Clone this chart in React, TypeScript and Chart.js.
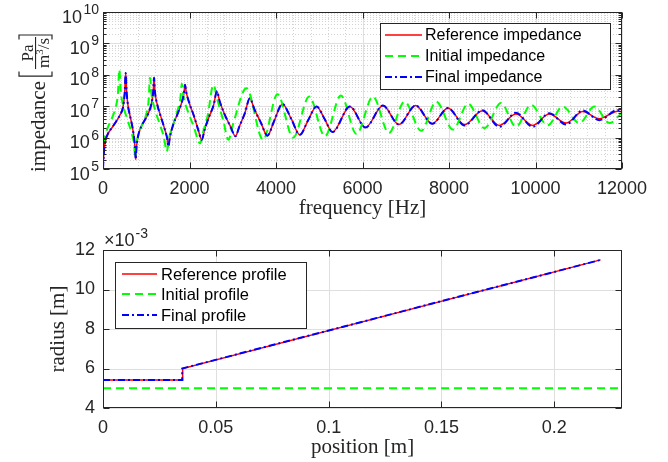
import React, { useEffect, useRef } from "react";
import { Chart, registerables } from "chart.js";
Chart.register(...registerables);

// ---------------- impedance data ----------------
const refFreq = [
  0, 20, 50, 100, 200, 300, 400, 460, 500, 525, 545, 580, 640, 700, 740, 757, 775, 810, 880, 960,
  1050, 1120, 1160, 1180, 1200, 1250, 1330, 1420, 1480, 1512, 1545, 1620, 1720, 1820, 1870, 1897,
  1925, 2000, 2100, 2200, 2283, 2350, 2450, 2560, 2631, 2700, 2800, 2950, 3062, 3150, 3280, 3394,
  3500, 3650, 3802, 3950, 4149, 4350, 4551, 4740, 4937, 5120, 5306, 5708, 6069, 6472, 6842, 7227,
  7612, 7976, 8360, 8770, 9163, 9549, 9934, 10320, 10706, 11090, 11477, 11900, 12000,
];
const refImp = [
  1.0e5, 3.2e5, 7.1e5, 1.2e6, 2.0e6, 3.2e6, 5.5e6, 8.9e6, 2.5e7, 1.15e8, 3.0e7, 1.0e7, 4.0e6, 1.5e6, 5.0e5, 2.0e5, 5.0e5, 1.1e6, 2.2e6, 3.5e6,
  6.0e6, 1.2e7, 2.8e7, 8.0e7, 3.0e7, 1.2e7, 5.0e6, 2.0e6, 1.0e6, 5.2e5, 1.0e6, 2.5e6, 5.5e6, 1.3e7, 2.5e7, 4.8e7,
  2.8e7, 1.2e7, 5.0e6, 1.8e6, 8.5e5, 1.8e6, 4.5e6, 1.1e7, 3.0e7, 1.4e7, 6.0e6, 2.2e6, 1.1e6, 2.2e6, 6.0e6, 1.8e7,
  8.0e6, 3.0e6, 1.15e6, 3.2e6, 1.17e7, 4.0e6, 1.23e6, 3.5e6, 9.8e6, 4.0e6, 1.5e6, 9.8e6, 2.1e6, 1.05e7, 2.6e6, 1.05e7,
  2.75e6, 8.7e6, 2.6e6, 7.1e6, 2.45e6, 5.6e6, 2.45e6, 5.6e6, 2.9e6, 6.8e6, 4.0e6, 6.9e6, 6.7e6,
];
const finImp = [
  1.0e5, 3.2e5, 7.1e5, 1.2e6, 2.0e6, 3.2e6, 5.5e6, 8.9e6, 2.5e7, 1.15e8, 3.0e7, 1.0e7, 4.0e6, 1.5e6, 5.0e5, 2.0e5, 5.0e5, 1.1e6, 2.2e6, 3.5e6,
  6.0e6, 1.2e7, 2.8e7, 8.0e7, 3.0e7, 1.2e7, 5.0e6, 2.0e6, 1.0e6, 5.2e5, 1.0e6, 2.5e6, 5.5e6, 1.3e7, 2.5e7, 4.8e7,
  2.8e7, 1.2e7, 5.0e6, 1.8e6, 8.5e5, 1.8e6, 4.5e6, 1.1e7, 3.0e7, 1.4e7, 6.0e6, 2.2e6, 1.1e6, 2.2e6, 6.0e6, 1.8e7,
  8.0e6, 3.0e6, 1.15e6, 3.2e6, 1.17e7, 4.0e6, 1.23e6, 3.5e6, 9.8e6, 4.0e6, 1.5e6, 9.8e6, 2.1e6, 1.05e7, 2.6e6, 1.05e7,
  2.75e6, 8.7e6, 2.45e6, 7.4e6, 2.2e6, 6.2e6, 2.2e6, 6.0e6, 2.6e6, 7.3e6, 3.6e6, 7.6e6, 7.2e6,
];
const iniFreq = [
  0, 30, 80, 150, 230, 300, 345, 377, 410, 470, 560, 660, 720, 745, 770, 820, 900, 990, 1050, 1088,
  1120, 1200, 1300, 1410, 1474, 1530, 1620, 1720, 1790, 1821, 1860, 1960, 2100, 2245, 2320, 2420, 2552,
  2650, 2780, 2900, 3000, 3316, 3702, 4034, 4397, 4767, 5130, 5500, 5862, 6241, 6611, 6972, 7358, 7705,
  8092, 8439, 8823, 9202, 9549, 9896, 10281, 10628, 11015, 11362, 11709, 12000,
];
const iniImp = [
  2.5e5, 8.0e5, 1.6e6, 2.8e6, 5.0e6, 1.0e7, 2.5e7, 1.5e8, 3.0e7, 1.0e7, 4.0e6, 1.4e6, 6.0e5, 2.3e5, 6.0e5, 1.2e6, 2.5e6, 5.0e6, 1.3e7, 8.0e7,
  2.5e7, 8.0e6, 3.0e6, 1.0e6, 3.6e5, 1.0e6, 2.6e6, 7.0e6, 1.8e7, 5.2e7, 2.0e7, 7.0e6, 2.2e6, 6.5e5, 1.6e6, 5.0e6, 4.8e7,
  1.5e7, 3.5e6, 8.5e5, 2.5e6, 3.7e7, 8.5e5, 2.4e7, 1.0e6, 2.04e7, 1.1e6, 2.2e7, 1.3e6, 2.04e7, 1.4e6, 1.4e7, 1.65e6, 1.4e7,
  1.8e6, 1.2e7, 2.0e6, 1.26e7, 2.2e6, 1.1e7, 2.45e6, 9.8e6, 2.9e6, 9.8e6, 2.9e6, 6.2e6,
];
const freqTicks = [0, 2000, 4000, 6000, 8000, 10000, 12000];
const impExponents = [5, 6, 7, 8, 9, 10];

// ---------------- profile data ----------------
const posRef = [0, 0.0353, 0.0353, 0.2205];
const radRef = [0.00542, 0.00542, 0.006, 0.0115];
const posIni = [0, 0.23];
const radIni = [0.005, 0.005];
const posFin = [0, 0.0351, 0.0351, 0.2205];
const radFin = [0.00542, 0.00542, 0.006, 0.0115];
const posTicks = [0, 0.05, 0.1, 0.15, 0.2];
const radTicksMm = [4, 6, 8, 10, 12];

const SANS = '"Liberation Sans", Arial, Helvetica, sans-serif';
const SERIF = '"Liberation Serif", "Times New Roman", serif';
const AX = "#262626";
const TOP_H = 224;
const BOT_H = 238;

const zip = (xs: number[], ys: number[]) => xs.map((x, i) => ({ x, y: ys[i] }));

type FrameOpts = {
  xMajor: number[];
  xMinor: number[];
  yMajor: number[];
  yMinor: number[];
  yMinorTicks: boolean;
  legend: { l: number; t: number; r: number; b: number; rows: number[]; lx0: number; lx1: number; tx: number; font: number };
  extra?: (chart: any) => void;
};

function framePlugin(o: FrameOpts) {
  return {
    id: "matlabFrame",
    beforeDatasetsDraw(chart: any) {
      const { ctx, chartArea: a, scales } = chart;
      const xs = scales.x, ys = scales.y;
      const vline = (v: number) => {
        const p = Math.round(xs.getPixelForValue(v)) + 0.5;
        ctx.beginPath(); ctx.moveTo(p, a.top); ctx.lineTo(p, a.bottom); ctx.stroke();
      };
      const hline = (v: number) => {
        const p = Math.round(ys.getPixelForValue(v)) + 0.5;
        ctx.beginPath(); ctx.moveTo(a.left, p); ctx.lineTo(a.right, p); ctx.stroke();
      };
      ctx.save();
      ctx.lineWidth = 1;
      ctx.strokeStyle = "#d4d4d4";
      ctx.setLineDash([1, 2]);
      o.xMinor.forEach(vline);
      o.yMinor.forEach(hline);
      ctx.setLineDash([]);
      ctx.strokeStyle = "#dfdfdf";
      o.xMajor.forEach(vline);
      o.yMajor.forEach(hline);
      ctx.restore();
    },
    afterDatasetsDraw(chart: any) {
      const { ctx, chartArea: a, scales } = chart;
      const xs = scales.x, ys = scales.y;
      const L = Math.round(a.left) + 0.5, R = Math.round(a.right) - 0.5;
      const T = Math.round(a.top) + 0.5, B = Math.round(a.bottom) - 0.5;
      ctx.save();
      ctx.strokeStyle = AX;
      ctx.lineWidth = 1;
      ctx.strokeRect(L, T, R - L, B - T);
      ctx.beginPath();
      for (const v of o.xMajor) {
        const p = Math.round(xs.getPixelForValue(v)) + 0.5;
        ctx.moveTo(p, B); ctx.lineTo(p, B - 6);
        ctx.moveTo(p, T); ctx.lineTo(p, T + 6);
      }
      for (const v of o.yMajor) {
        const p = Math.round(ys.getPixelForValue(v)) + 0.5;
        ctx.moveTo(L, p); ctx.lineTo(L + 6, p);
        ctx.moveTo(R, p); ctx.lineTo(R - 6, p);
      }
      if (o.yMinorTicks) {
        for (const v of o.yMinor) {
          const p = Math.round(ys.getPixelForValue(v)) + 0.5;
          ctx.moveTo(L, p); ctx.lineTo(L + 3, p);
          ctx.moveTo(R, p); ctx.lineTo(R - 3, p);
        }
      }
      ctx.stroke();

      // legend
      const lg = o.legend;
      ctx.fillStyle = "#ffffff";
      ctx.fillRect(lg.l, lg.t, lg.r - lg.l, lg.b - lg.t);
      ctx.strokeStyle = AX;
      ctx.strokeRect(lg.l + 0.5, lg.t + 0.5, lg.r - lg.l, lg.b - lg.t);
      chart.data.datasets.forEach((ds: any, i: number) => {
        const y = lg.rows[i];
        ctx.save();
        ctx.strokeStyle = ds.borderColor;
        ctx.lineWidth = ds.borderWidth;
        ctx.setLineDash(ds.borderDash || []);
        ctx.beginPath(); ctx.moveTo(lg.lx0, y); ctx.lineTo(lg.lx1, y); ctx.stroke();
        ctx.restore();
        ctx.fillStyle = "#000000";
        ctx.font = `${lg.font}px ${SANS}`;
        ctx.textAlign = "left";
        ctx.textBaseline = "middle";
        ctx.fillText(ds.label, lg.tx, y + 1);
      });
      ctx.restore();
    },
    afterDraw(chart: any) {
      if (o.extra) o.extra(chart);
    },
  };
}

function drawTopExtras(chart: any) {
  const { ctx, scales } = chart;
  const ys = scales.y;
  ctx.save();
  ctx.fillStyle = AX;
  ctx.textBaseline = "alphabetic";
  ctx.textAlign = "left";
  for (const e of impExponents) {
    const py = ys.getPixelForValue(Math.pow(10, e));
    ctx.font = `14px ${SANS}`;
    const ew = ctx.measureText(String(e)).width;
    ctx.font = `18px ${SANS}`;
    const bw = ctx.measureText("10").width;
    const x0 = 99 - ew - 1.5 - bw;
    ctx.fillText("10", x0, py + 10.5);
    ctx.font = `14px ${SANS}`;
    ctx.fillText(String(e), x0 + bw + 1.5, py + 2);
  }
  // y title: impedance [Pa / m^3/s]
  ctx.translate(45, 172);
  ctx.rotate(-Math.PI / 2);
  ctx.strokeStyle = AX;
  ctx.font = `21px ${SERIF}`;
  ctx.fillText("impedance", 0, 0);
  let u = ctx.measureText("impedance").width + 5;
  const vt = -26, vb = 7;
  ctx.lineWidth = 1.2;
  ctx.beginPath();
  ctx.moveTo(u + 4.5, vt); ctx.lineTo(u, vt); ctx.lineTo(u, vb); ctx.lineTo(u + 4.5, vb);
  ctx.stroke();
  u += 7;
  const FS = 17;
  ctx.font = `${FS}px ${SERIF}`;
  const wPa = ctx.measureText("Pa").width;
  const wm = ctx.measureText("m").width;
  const ws = ctx.measureText("/s").width;
  ctx.font = `11px ${SERIF}`;
  const w3 = ctx.measureText("3").width;
  const wDen = wm + w3 + ws;
  const fw = Math.max(wPa, wDen) + 2;
  ctx.fillRect(u, -10, fw, 1.1);
  ctx.font = `${FS}px ${SERIF}`;
  ctx.fillText("Pa", u + (fw - wPa) / 2, -12.5);
  let d = u + (fw - wDen) / 2;
  ctx.fillText("m", d, 3.5);
  d += wm;
  ctx.font = `11px ${SERIF}`;
  ctx.fillText("3", d, -2.5);
  d += w3;
  ctx.font = `${FS}px ${SERIF}`;
  ctx.fillText("/s", d, 3.5);
  u += fw + 2;
  ctx.beginPath();
  ctx.moveTo(u - 4.5, vt); ctx.lineTo(u, vt); ctx.lineTo(u, vb); ctx.lineTo(u - 4.5, vb);
  ctx.stroke();
  ctx.restore();
}

function drawBottomExtras(chart: any) {
  const { ctx, chartArea: a } = chart;
  ctx.save();
  ctx.fillStyle = AX;
  ctx.textBaseline = "alphabetic";
  ctx.textAlign = "left";
  ctx.font = `18px ${SANS}`;
  const x0 = a.left + 1;
  ctx.fillText("\u00d710", x0, a.top - 4);
  const w = ctx.measureText("\u00d710").width;
  ctx.font = `14px ${SANS}`;
  ctx.fillText("-3", x0 + w + 1, a.top - 12);
  ctx.restore();
}

function range(ex: number[], ks: number[]) {
  const out: number[] = [];
  ex.forEach((e) => ks.forEach((k) => out.push(k * Math.pow(10, e))));
  return out;
}

function TopChart() {
  const ref = useRef<HTMLCanvasElement | null>(null);
  useEffect(() => {
    const canvas = ref.current!;
    const xMinor: number[] = [];
    for (let i = 0; i < freqTicks.length - 1; i++) {
      const step = (freqTicks[i + 1] - freqTicks[i]) / 5;
      for (let k = 1; k < 5; k++) xMinor.push(freqTicks[i] + k * step);
    }
    const frame = framePlugin({
      xMajor: freqTicks,
      xMinor,
      yMajor: impExponents.map((e) => Math.pow(10, e)),
      yMinor: range(impExponents.slice(0, -1), [2, 3, 4, 5, 6, 7, 8, 9]),
      yMinorTicks: true,
      legend: { l: 380, t: 23, r: 610, b: 89, rows: [35, 56, 77], lx0: 385, lx1: 422, tx: 425, font: 16 },
      extra: drawTopExtras,
    });
    const chart = new Chart(canvas, {
      type: "line",
      data: {
        datasets: [
          { label: "Reference impedance", data: zip(refFreq, refImp), borderColor: "#ff0000", borderWidth: 1.5, pointRadius: 0, cubicInterpolationMode: "monotone", order: 3 },
          { label: "Initial impedance", data: zip(iniFreq, iniImp), borderColor: "#00ff00", borderWidth: 2, borderDash: [8, 5], pointRadius: 0, cubicInterpolationMode: "monotone", order: 2 },
          { label: "Final impedance", data: zip(refFreq, finImp), borderColor: "#0000ff", borderWidth: 2, borderDash: [7, 3, 2, 3], pointRadius: 0, cubicInterpolationMode: "monotone", order: 1 },
        ] as any,
      },
      options: {
        responsive: false,
        animation: false,
        devicePixelRatio: 1,
        events: [],
        layout: { padding: { top: 12, right: 46, left: 0, bottom: 0 } },
        plugins: { legend: { display: false }, tooltip: { enabled: false } },
        scales: {
          x: {
            type: "linear",
            min: 0,
            max: 12000,
            afterBuildTicks: (s: any) => { s.ticks = freqTicks.map((v) => ({ value: v })); },
            afterFit: (s: any) => { s.height = TOP_H - 169; },
            ticks: { autoSkip: false, maxRotation: 0, color: AX, font: { family: SANS, size: 18 }, padding: 9, callback: (v: any) => String(v) },
            grid: { display: false, drawTicks: false },
            border: { display: false },
            title: { display: true, text: "frequency [Hz]", color: AX, font: { family: SERIF, size: 21 }, padding: { top: 0, bottom: 3 } },
          },
          y: {
            type: "logarithmic",
            min: 1e5,
            max: 1e10,
            afterBuildTicks: (s: any) => { s.ticks = impExponents.map((e) => ({ value: Math.pow(10, e) })); },
            afterFit: (s: any) => { s.width = 103; },
            ticks: { display: false },
            grid: { display: false, drawTicks: false },
            border: { display: false },
          },
        },
      } as any,
      plugins: [frame],
    });
    return () => chart.destroy();
  }, []);
  return <canvas ref={ref} width={668} height={TOP_H} style={{ position: "absolute", left: 0, top: 0, width: 668, height: TOP_H }} />;
}

function BottomChart() {
  const ref = useRef<HTMLCanvasElement | null>(null);
  useEffect(() => {
    const canvas = ref.current!;
    const frame = framePlugin({
      xMajor: posTicks,
      xMinor: [],
      yMajor: radTicksMm.map((t) => t / 1000),
      yMinor: [],
      yMinorTicks: false,
      legend: { l: 115, t: 262 - TOP_H, r: 306, b: 328 - TOP_H, rows: [274 - TOP_H, 294 - TOP_H, 315 - TOP_H], lx0: 122, lx1: 157, tx: 161, font: 16.5 },
      extra: drawBottomExtras,
    });
    const chart = new Chart(canvas, {
      type: "line",
      data: {
        datasets: [
          { label: "Reference profile", data: zip(posRef, radRef), borderColor: "#ff0000", borderWidth: 1.5, pointRadius: 0, tension: 0, order: 3 },
          { label: "Initial profile", data: zip(posIni, radIni), borderColor: "#00ff00", borderWidth: 2, borderDash: [8, 5], pointRadius: 0, tension: 0, order: 2 },
          { label: "Final profile", data: zip(posFin, radFin), borderColor: "#0000ff", borderWidth: 2, borderDash: [7, 3, 2, 3], pointRadius: 0, tension: 0, order: 1 },
        ] as any,
      },
      options: {
        responsive: false,
        animation: false,
        devicePixelRatio: 1,
        events: [],
        layout: { padding: { top: 250 - TOP_H, right: 46, left: 0, bottom: 0 } },
        plugins: { legend: { display: false }, tooltip: { enabled: false } },
        scales: {
          x: {
            type: "linear",
            min: 0,
            max: 0.23,
            afterBuildTicks: (s: any) => { s.ticks = posTicks.map((v) => ({ value: v })); },
            afterFit: (s: any) => { s.height = BOT_H - (408 - TOP_H); },
            ticks: { autoSkip: false, maxRotation: 0, color: AX, font: { family: SANS, size: 18 }, padding: 9, callback: (v: any) => String(v) },
            grid: { display: false, drawTicks: false },
            border: { display: false },
            title: { display: true, text: "position [m]", color: AX, font: { family: SERIF, size: 21 }, padding: { top: 0, bottom: 2 } },
          },
          y: {
            type: "linear",
            min: 0.004,
            max: 0.012,
            afterBuildTicks: (s: any) => { s.ticks = radTicksMm.map((t) => ({ value: t / 1000 })); },
            afterFit: (s: any) => { s.width = 103; },
            ticks: { autoSkip: false, color: AX, font: { family: SANS, size: 18 }, padding: 8, callback: (_v: any, i: number) => String(radTicksMm[i]) },
            grid: { display: false, drawTicks: false },
            border: { display: false },
            title: { display: true, text: "radius [m]", color: AX, font: { family: SERIF, size: 21 }, padding: { top: 46, bottom: 0 } },
          },
        },
      } as any,
      plugins: [frame],
    });
    return () => chart.destroy();
  }, []);
  return <canvas ref={ref} width={668} height={BOT_H} style={{ position: "absolute", left: 0, top: TOP_H, width: 668, height: BOT_H }} />;
}

export default function App() {
  return (
    <div style={{ position: "absolute", left: 0, top: 0, width: 668, height: 462, background: "#ffffff" }}>
      <TopChart />
      <BottomChart />
    </div>
  );
}
